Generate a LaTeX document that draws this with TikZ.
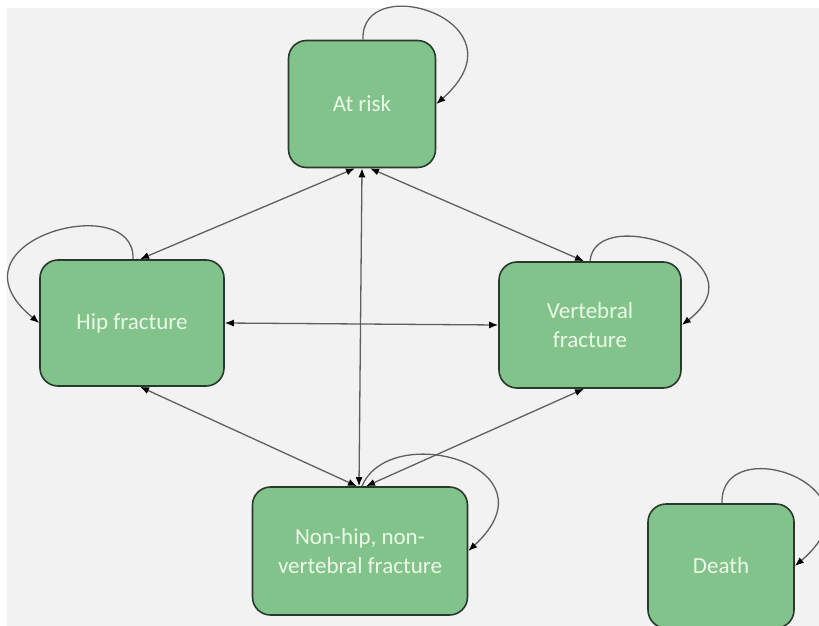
\documentclass[tikz,border=0pt]{standalone}
\usepackage{fontspec}
\setmainfont{Carlito}
\usetikzlibrary{arrows.meta}
\definecolor{boxfill}{RGB}{130,195,140}
\definecolor{boxdraw}{RGB}{40,58,43}
\definecolor{boxtext}{RGB}{236,248,230}
\definecolor{edgecol}{RGB}{95,95,95}
\definecolor{bgcol}{RGB}{242,242,242}
\begin{document}
\begin{tikzpicture}[x=1pt,y=-1pt,
  state/.style={draw=boxdraw, line width=1.6pt, fill=boxfill, rounded corners=18pt,
    text=boxtext, font=\fontsize{23}{29.5}\selectfont, align=center, inner sep=0pt},
  link/.style={draw=edgecol, line width=1.3pt, {Latex[length=9pt,width=7pt,black]}-{Latex[length=9pt,width=7pt,black]}},
  loopy/.style={draw=edgecol, line width=1.3pt, -{Latex[length=9pt,width=7pt,black]}}]
\useasboundingbox (0,0) rectangle (819,626);
\fill[white] (0,0) rectangle (819,626);
\fill[bgcol] (7,8) rectangle (819,626);
\begin{scope}
\clip (0,0) rectangle (819,626);
\node[state, minimum width=147pt, minimum height=127pt] (ar) at (362,104) {At risk};
\node[state, minimum width=184pt, minimum height=126pt] (hip) at (132,323) {Hip fracture};
\node[state, minimum width=182pt, minimum height=126pt] (vert) at (590,325) {Vertebral\\fracture};
\node[state, minimum width=215pt, minimum height=128pt] (nh) at (360,551) {Non-hip, non-\\vertebral fracture};
\node[state, minimum width=146pt, minimum height=124pt] (death) at (721,566) {Death};

\draw[link] ([xshift=-7pt]ar.south) -- ([xshift=8pt]hip.north);
\draw[link] ([xshift=8pt]ar.south) -- ([xshift=-6pt]vert.north);
\draw[link] (ar.south) -- ([xshift=-1pt]nh.north);
\draw[link] (hip.east) -- (vert.west);
\draw[link] ([xshift=8pt]hip.south) -- ([xshift=-3pt]nh.north);
\draw[link] ([xshift=-6pt]vert.south) -- ([xshift=6pt]nh.north);

\draw[loopy] ([xshift=1pt]ar.north) .. controls +(-3,-71) and +(94,-83) .. (ar.east);
\draw[loopy] ([xshift=1pt]hip.north) .. controls +(3,-71) and +(-100,-82) .. (hip.west);
\draw[loopy] (vert.north) .. controls +(5,-60) and +(85,-65) .. (vert.east);
\draw[loopy] ([xshift=2pt]nh.north) .. controls +(28,-67) and +(92,-85) .. (nh.east);
\draw[loopy] ([xshift=1pt]death.north) .. controls +(-2,-74) and +(95,-80) .. (death.east);
\end{scope}
\end{tikzpicture}
\end{document}
